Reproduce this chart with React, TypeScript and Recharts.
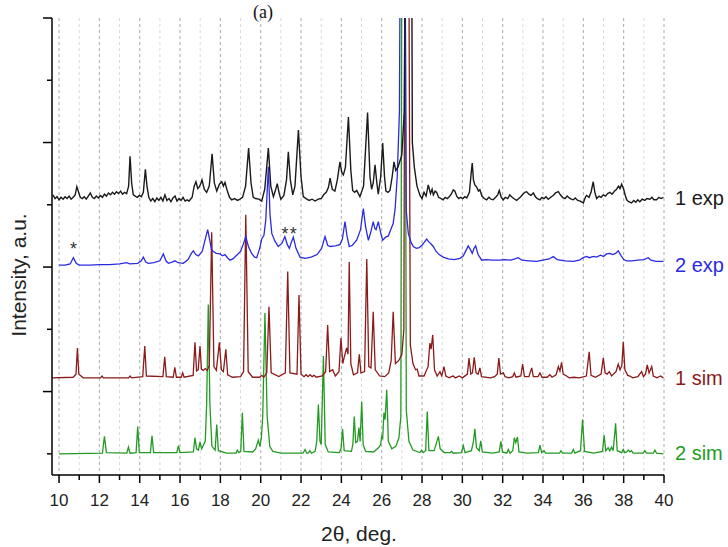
import React from 'react';
import { LineChart, Line, XAxis, YAxis, CartesianGrid, ReferenceDot } from 'recharts';

// 2θ positions and intensities (offset, arbitrary units)
const exp1: [number, number][] = [
  [9.7, 4.16], [9.8, 4.1], [9.9, 4.13], [10.0, 4.08], [10.1, 4.12], [10.2, 4.09], [10.3, 4.13], [10.4, 4.1],
  [10.5, 4.14], [10.6, 4.09], [10.7, 4.12], [10.8, 4.16], [10.88, 4.29], [10.95, 4.22], [11.05, 4.12], [11.15, 4.1],
  [11.25, 4.13], [11.35, 4.09], [11.45, 4.14], [11.55, 4.19], [11.65, 4.12], [11.75, 4.1], [11.85, 4.14], [11.95, 4.11],
  [12.05, 4.15], [12.15, 4.12], [12.25, 4.17], [12.35, 4.14], [12.45, 4.19], [12.55, 4.16], [12.65, 4.2], [12.75, 4.17],
  [12.85, 4.21], [12.95, 4.18], [13.05, 4.22], [13.15, 4.17], [13.25, 4.2], [13.35, 4.18], [13.45, 4.3], [13.52, 4.78],
  [13.6, 4.35], [13.68, 4.16], [13.78, 4.14], [13.88, 4.12], [13.98, 4.15], [14.08, 4.13], [14.18, 4.2], [14.28, 4.57],
  [14.36, 4.3], [14.45, 4.12], [14.55, 4.06], [14.65, 4.1], [14.75, 4.05], [14.85, 4.11], [14.95, 4.07], [15.05, 4.12],
  [15.15, 4.06], [15.25, 4.16], [15.35, 4.07], [15.45, 4.1], [15.55, 4.05], [15.65, 4.11], [15.75, 4.14], [15.85, 4.06],
  [15.95, 4.1], [16.05, 4.07], [16.15, 4.12], [16.25, 4.06], [16.35, 4.08], [16.45, 4.06], [16.6, 4.12], [16.7, 4.3],
  [16.79, 4.37], [16.88, 4.26], [16.96, 4.29], [17.04, 4.35], [17.09, 4.4], [17.2, 4.25], [17.32, 4.2], [17.45, 4.3],
  [17.59, 4.82], [17.7, 4.35], [17.82, 4.22], [17.95, 4.33], [18.07, 4.37], [18.15, 4.3], [18.23, 4.36], [18.32, 4.25],
  [18.45, 4.12], [18.56, 4.08], [18.7, 4.1], [18.85, 4.07], [18.97, 4.09], [19.1, 4.12], [19.25, 4.3], [19.4, 4.91],
  [19.52, 4.35], [19.63, 4.12], [19.75, 4.1], [19.9, 4.09], [20.05, 4.06], [20.2, 4.25], [20.38, 4.91], [20.5, 4.3],
  [20.63, 4.13], [20.72, 4.22], [20.82, 4.34], [20.92, 4.18], [21.0, 4.09], [21.15, 4.15], [21.28, 4.4], [21.37, 4.85],
  [21.47, 4.4], [21.59, 4.16], [21.7, 4.3], [21.87, 5.2], [22.0, 4.45], [22.11, 4.13], [22.25, 4.1], [22.4, 4.07],
  [22.55, 4.09], [22.7, 4.06], [22.85, 4.09], [23.0, 4.1], [23.12, 4.16], [23.25, 4.2], [23.36, 4.28], [23.44, 4.43],
  [23.55, 4.25], [23.68, 4.22], [23.8, 4.4], [23.93, 4.69], [24.02, 4.52], [24.1, 4.48], [24.2, 4.6], [24.35, 5.41],
  [24.47, 4.55], [24.56, 4.23], [24.66, 4.2], [24.76, 4.23], [24.92, 4.13], [25.1, 4.3], [25.3, 5.48], [25.42, 4.45],
  [25.5, 4.25], [25.58, 4.35], [25.67, 4.64], [25.76, 4.35], [25.83, 4.17], [25.95, 4.45], [26.05, 4.99], [26.14, 4.45],
  [26.21, 4.22], [26.31, 4.2], [26.41, 4.23], [26.52, 4.45], [26.61, 4.69], [26.7, 4.55], [26.8, 4.6], [26.9, 4.7],
  [27.0, 4.8], [27.12, 5.5], [27.25, 12], [27.45, 12], [27.52, 5.0], [27.62, 4.6], [27.75, 4.3], [27.9, 4.15],
  [28.0, 4.1], [28.1, 4.2], [28.2, 4.14], [28.31, 4.32], [28.42, 4.18], [28.5, 4.25], [28.56, 4.16], [28.65, 4.22],
  [28.73, 4.2], [28.82, 4.12], [28.95, 4.1], [29.05, 4.08], [29.15, 4.12], [29.25, 4.1], [29.35, 4.13], [29.45, 4.17],
  [29.55, 4.24], [29.63, 4.22], [29.72, 4.14], [29.82, 4.1], [29.92, 4.12], [30.02, 4.1], [30.12, 4.13], [30.22, 4.11],
  [30.35, 4.2], [30.45, 4.55], [30.49, 4.67], [30.55, 4.4], [30.62, 4.32], [30.72, 4.28], [30.8, 4.22], [30.87, 4.24],
  [30.97, 4.14], [31.08, 4.1], [31.2, 4.08], [31.32, 4.12], [31.42, 4.09], [31.53, 4.08], [31.65, 4.12], [31.75, 4.16],
  [31.83, 4.23], [31.93, 4.12], [32.03, 4.08], [32.13, 4.12], [32.25, 4.1], [32.35, 4.16], [32.44, 4.13], [32.55, 4.1],
  [32.69, 4.07], [32.8, 4.1], [32.9, 4.13], [33.0, 4.17], [33.1, 4.2], [33.19, 4.21], [33.3, 4.17], [33.4, 4.15],
  [33.52, 4.19], [33.62, 4.13], [33.72, 4.1], [33.85, 4.08], [33.95, 4.12], [34.05, 4.1], [34.15, 4.13], [34.26, 4.09],
  [34.38, 4.12], [34.5, 4.15], [34.62, 4.19], [34.76, 4.21], [34.86, 4.16], [34.97, 4.12], [35.09, 4.1], [35.2, 4.14],
  [35.3, 4.11], [35.4, 4.09], [35.5, 4.08], [35.6, 4.11], [35.72, 4.07], [35.85, 4.06], [36.0, 4.03], [36.1, 4.12],
  [36.16, 4.15], [36.28, 4.12], [36.38, 4.2], [36.49, 4.37], [36.57, 4.2], [36.66, 4.1], [36.78, 4.14], [36.88, 4.12],
  [36.99, 4.16], [37.1, 4.14], [37.2, 4.18], [37.32, 4.2], [37.42, 4.17], [37.55, 4.22], [37.65, 4.25], [37.75, 4.3],
  [37.82, 4.26], [37.9, 4.33], [38.0, 4.25], [38.08, 4.15], [38.15, 4.08], [38.25, 4.05], [38.39, 4.03], [38.5, 4.07],
  [38.6, 4.04], [38.7, 4.08], [38.8, 4.05], [38.92, 4.09], [39.05, 4.07], [39.15, 4.1], [39.3, 4.09], [39.4, 4.12],
  [39.5, 4.08], [39.63, 4.08], [39.75, 4.12], [39.85, 4.1], [39.97, 4.12],
];

const exp2: [number, number][] = [
  [10.0, 3.03], [10.3, 3.03], [10.55, 3.05], [10.71, 3.15], [10.85, 3.06], [11.0, 3.03], [11.5, 3.03], [12.0, 3.04],
  [12.5, 3.04], [13.0, 3.05], [13.36, 3.07], [13.5, 3.05], [13.9, 3.06], [14.08, 3.1], [14.18, 3.16], [14.3, 3.08],
  [14.43, 3.06], [14.7, 3.07], [15.0, 3.1], [15.17, 3.21], [15.3, 3.1], [15.42, 3.06], [15.6, 3.08], [15.75, 3.1],
  [15.9, 3.07], [16.16, 3.06], [16.4, 3.12], [16.56, 3.22], [16.66, 3.26], [16.78, 3.2], [16.91, 3.18], [17.1, 3.25],
  [17.25, 3.45], [17.37, 3.6], [17.48, 3.42], [17.56, 3.28], [17.65, 3.25], [17.8, 3.22], [17.98, 3.21], [18.1, 3.18],
  [18.23, 3.2], [18.35, 3.15], [18.48, 3.11], [18.62, 3.13], [18.81, 3.19], [19.0, 3.25], [19.15, 3.38], [19.26, 3.49],
  [19.39, 3.33], [19.55, 3.22], [19.7, 3.16], [19.8, 3.15], [19.95, 3.3], [20.05, 3.45], [20.16, 3.51], [20.25, 3.75],
  [20.38, 4.61], [20.46, 3.85], [20.55, 3.54], [20.7, 3.42], [20.87, 3.33], [21.05, 3.38], [21.2, 3.49], [21.32, 3.36],
  [21.42, 3.3], [21.52, 3.4], [21.62, 3.48], [21.75, 3.3], [21.95, 3.16], [22.2, 3.14], [22.5, 3.16], [22.8, 3.2],
  [23.02, 3.3], [23.19, 3.49], [23.32, 3.35], [23.44, 3.33], [23.7, 3.34], [23.93, 3.36], [24.05, 3.45], [24.18, 3.73],
  [24.28, 3.5], [24.39, 3.33], [24.55, 3.35], [24.76, 3.43], [24.95, 3.6], [25.09, 3.94], [25.2, 3.65], [25.34, 3.43],
  [25.45, 3.55], [25.58, 3.73], [25.66, 3.62], [25.72, 3.6], [25.83, 3.73], [25.95, 3.55], [26.05, 3.43], [26.2, 3.48],
  [26.33, 3.5], [26.47, 3.62], [26.57, 3.7], [26.67, 3.95], [26.77, 4.45], [26.88, 5.5], [26.97, 12], [27.1, 12],
  [27.22, 3.9], [27.32, 3.54], [27.45, 3.4], [27.57, 3.33], [27.72, 3.3], [27.86, 3.31], [28.0, 3.35], [28.12, 3.4],
  [28.23, 3.45], [28.35, 3.4], [28.45, 3.37], [28.56, 3.33], [28.7, 3.25], [28.85, 3.2], [29.05, 3.16], [29.3, 3.13],
  [29.6, 3.12], [29.88, 3.14], [30.05, 3.18], [30.2, 3.28], [30.29, 3.34], [30.4, 3.28], [30.49, 3.22], [30.58, 3.3],
  [30.66, 3.34], [30.78, 3.2], [30.96, 3.11], [31.2, 3.12], [31.5, 3.11], [31.87, 3.11], [32.1, 3.12], [32.4, 3.11],
  [32.6, 3.13], [32.77, 3.15], [32.95, 3.11], [33.3, 3.1], [33.68, 3.09], [34.0, 3.11], [34.3, 3.13], [34.51, 3.17],
  [34.7, 3.12], [35.1, 3.1], [35.5, 3.09], [35.8, 3.11], [36.0, 3.15], [36.16, 3.17], [36.3, 3.15], [36.5, 3.17],
  [36.66, 3.16], [36.85, 3.19], [37.0, 3.17], [37.15, 3.21], [37.32, 3.22], [37.45, 3.2], [37.6, 3.22], [37.73, 3.26],
  [37.88, 3.18], [38.0, 3.12], [38.15, 3.1], [38.4, 3.1], [38.7, 3.11], [39.0, 3.12], [39.22, 3.15], [39.35, 3.11],
  [39.6, 3.09], [39.97, 3.09],
];

const sim1: [number, number][] = [
  [9.66, 1.22], [10.7, 1.23], [10.84, 1.28], [10.91, 1.7], [10.98, 1.28], [11.2, 1.22], [12.05, 1.22], [12.13, 1.25],
  [12.2, 1.22], [13.45, 1.22], [13.52, 1.25], [13.6, 1.22], [14.15, 1.24], [14.25, 1.73], [14.33, 1.25], [15.15, 1.24],
  [15.24, 1.56], [15.32, 1.24], [15.66, 1.23], [15.74, 1.39], [15.82, 1.23], [16.06, 1.23], [16.13, 1.3], [16.2, 1.23],
  [16.65, 1.26], [16.74, 1.79], [16.82, 1.33], [16.9, 1.35], [16.99, 1.73], [17.06, 1.36], [17.15, 1.34], [17.25, 1.37],
  [17.35, 1.34], [17.45, 1.42], [17.57, 3.56], [17.68, 1.4], [17.8, 1.34], [17.95, 1.79], [18.05, 1.35], [18.15, 1.32],
  [18.27, 1.68], [18.36, 1.27], [18.6, 1.23], [19.0, 1.24], [19.15, 1.32], [19.26, 3.84], [19.38, 1.32], [19.6, 1.23],
  [19.95, 1.23], [20.05, 1.26], [20.15, 1.23], [20.3, 1.3], [20.41, 2.36], [20.52, 1.3], [20.9, 1.24], [21.22, 1.3],
  [21.34, 2.93], [21.45, 1.3], [21.8, 1.28], [21.9, 2.55], [22.0, 1.28], [22.15, 1.24], [22.25, 1.27], [22.35, 1.24],
  [22.45, 1.27], [22.55, 1.24], [22.65, 1.26], [22.75, 1.23], [23.05, 1.25], [23.22, 1.32], [23.32, 2.07], [23.42, 1.32],
  [23.57, 1.35], [23.7, 1.25], [23.88, 1.32], [23.98, 1.86], [24.07, 1.45], [24.14, 1.55], [24.26, 1.7], [24.33, 1.6],
  [24.39, 3.08], [24.47, 1.45], [24.6, 1.27], [24.8, 1.3], [24.89, 1.6], [24.97, 1.3], [25.15, 1.32], [25.26, 3.13],
  [25.36, 1.4], [25.47, 1.38], [25.58, 2.28], [25.68, 1.35], [25.9, 1.25], [26.15, 1.24], [26.35, 1.3], [26.47, 1.5],
  [26.57, 2.28], [26.68, 1.45], [26.85, 1.5], [27.0, 1.6], [27.1, 2.0], [27.18, 12], [27.3, 12], [27.42, 1.75],
  [27.55, 1.45], [27.68, 1.35], [27.76, 1.36], [27.85, 1.25], [28.1, 1.25], [28.3, 1.4], [28.39, 1.78], [28.45, 1.68],
  [28.53, 1.91], [28.62, 1.35], [28.75, 1.25], [28.89, 1.32], [28.98, 1.25], [29.09, 1.4], [29.18, 1.25], [29.35, 1.22],
  [29.45, 1.24], [29.55, 1.25], [29.65, 1.22], [29.85, 1.25], [30.0, 1.22], [30.25, 1.28], [30.33, 1.54], [30.42, 1.28],
  [30.5, 1.3], [30.59, 1.55], [30.68, 1.3], [30.78, 1.28], [30.87, 1.38], [30.95, 1.24], [31.4, 1.22], [31.6, 1.24],
  [31.73, 1.28], [31.81, 1.54], [31.89, 1.28], [32.03, 1.3], [32.12, 1.24], [32.3, 1.22], [32.5, 1.24], [32.58, 1.3],
  [32.66, 1.23], [32.9, 1.25], [32.99, 1.44], [33.08, 1.24], [33.3, 1.24], [33.44, 1.38], [33.52, 1.24], [33.75, 1.24],
  [33.85, 1.3], [33.95, 1.23], [34.2, 1.23], [34.34, 1.27], [34.45, 1.23], [34.65, 1.27], [34.76, 1.4], [34.84, 1.33],
  [34.92, 1.47], [35.0, 1.28], [35.17, 1.25], [35.3, 1.22], [35.53, 1.23], [35.8, 1.22], [36.15, 1.25], [36.29, 1.64],
  [36.38, 1.26], [36.6, 1.23], [36.88, 1.28], [36.99, 1.54], [37.08, 1.3], [37.18, 1.28], [37.29, 1.32], [37.4, 1.25],
  [37.62, 1.32], [37.73, 1.44], [37.82, 1.35], [37.91, 1.42], [37.98, 1.8], [38.06, 1.35], [38.2, 1.26], [38.31, 1.25],
  [38.45, 1.22], [38.7, 1.24], [38.89, 1.32], [38.98, 1.24], [39.08, 1.28], [39.17, 1.43], [39.26, 1.3], [39.39, 1.4],
  [39.47, 1.25], [39.65, 1.22], [39.83, 1.25], [39.97, 1.22],
];

const sim2: [number, number][] = [
  [10.0, 0], [12.15, 0.01], [12.25, 0.28], [12.35, 0.02], [13.36, 0.01], [13.44, 0.11], [13.52, 0.01], [13.82, 0.02],
  [13.9, 0.44], [13.98, 0.02], [14.53, 0.02], [14.61, 0.29], [14.69, 0.02], [15.84, 0.02], [15.92, 0.13], [16.0, 0.02],
  [16.66, 0.03], [16.74, 0.26], [16.82, 0.08], [16.91, 0.06], [16.99, 0.19], [17.07, 0.08], [17.25, 0.2], [17.32, 0.8],
  [17.4, 2.4], [17.48, 0.8], [17.58, 0.12], [17.74, 0.06], [17.82, 0.47], [17.9, 0.05], [18.3, 0.01], [18.78, 0.01],
  [18.84, 0.06], [18.92, 0.02], [19.01, 0.04], [19.09, 0.66], [19.17, 0.04], [19.6, 0.03], [19.75, 0.08], [19.88, 0.22],
  [19.96, 0.12], [20.03, 0.25], [20.1, 0.6], [20.21, 2.26], [20.32, 0.6], [20.45, 0.12], [20.6, 0.04], [21.0, 0.01],
  [22.1, 0.01], [22.2, 0.07], [22.28, 0.01], [22.36, 0.01], [22.44, 0.05], [22.52, 0.01], [22.7, 0.04], [22.78, 0.2],
  [22.86, 0.79], [22.94, 0.2], [23.0, 0.15], [23.11, 1.57], [23.2, 0.15], [23.35, 0.03], [23.9, 0.02], [23.98, 0.08],
  [24.06, 0.4], [24.14, 0.05], [24.5, 0.04], [24.57, 0.15], [24.64, 0.6], [24.71, 0.18], [24.8, 0.2], [24.87, 0.42],
  [24.93, 0.2], [25.01, 0.84], [25.08, 0.15], [25.2, 0.04], [25.6, 0.03], [25.85, 0.1], [25.95, 0.15], [26.0, 0.28],
  [26.05, 0.25], [26.11, 0.66], [26.17, 0.55], [26.25, 1.03], [26.33, 0.2], [26.5, 0.08], [26.7, 0.12], [26.85, 0.25],
  [26.95, 0.6], [27.02, 12], [27.14, 12], [27.22, 0.7], [27.35, 0.2], [27.55, 0.06], [27.9, 0.02], [27.98, 0.06],
  [28.06, 0.02], [28.18, 0.05], [28.26, 0.68], [28.34, 0.05], [28.6, 0.05], [28.72, 0.18], [28.81, 0.28], [28.9, 0.08],
  [29.1, 0.02], [29.4, 0.02], [29.47, 0.04], [29.55, 0.01], [29.95, 0.02], [30.05, 0.13], [30.13, 0.02], [30.45, 0.05],
  [30.55, 0.2], [30.62, 0.4], [30.7, 0.1], [30.84, 0.05], [30.91, 0.21], [30.99, 0.03], [31.5, 0.01], [31.83, 0.03],
  [31.91, 0.2], [31.99, 0.03], [32.2, 0.01], [32.28, 0.07], [32.36, 0.01], [32.5, 0.05], [32.58, 0.26], [32.65, 0.18],
  [32.73, 0.27], [32.81, 0.03], [33.2, 0.01], [33.77, 0.02], [33.85, 0.14], [33.93, 0.02], [34.05, 0.05], [34.13, 0.01],
  [34.82, 0.01], [34.89, 0.05], [34.96, 0.01], [35.42, 0.01], [35.5, 0.07], [35.58, 0.01], [35.86, 0.05], [35.96, 0.55],
  [36.06, 0.04], [36.5, 0.01], [36.95, 0.04], [37.03, 0.3], [37.11, 0.05], [37.23, 0.1], [37.31, 0.05], [37.4, 0.11],
  [37.48, 0.05], [37.6, 0.49], [37.68, 0.05], [37.9, 0.02], [37.98, 0.07], [38.05, 0.02], [38.15, 0.03], [38.23, 0.06],
  [38.31, 0.03], [38.39, 0.05], [38.47, 0.01], [38.97, 0.01], [39.05, 0.05], [39.13, 0.01], [39.47, 0.01], [39.55, 0.06],
  [39.63, 0.01], [39.97, 0],
];

const xTicks = [10, 11, 12, 13, 14, 15, 16, 17, 18, 19, 20, 21, 22, 23, 24, 25, 26, 27, 28, 29, 30, 31, 32, 33, 34, 35, 36, 37, 38, 39, 40];
const xMajor = [10, 12, 14, 16, 18, 20, 22, 24, 26, 28, 30, 32, 34, 36, 38, 40];
const xMinor = [11, 13, 15, 17, 19, 21, 23, 25, 27, 29, 31, 33, 35, 37, 39];
const yTicks = [0, 1, 2, 3, 4, 5, 6, 7];
const yMajor = [1, 3, 5, 7];

const seriesLabels = [
  { name: '1 exp', y: 4.11, color: '#1a1a1a' },
  { name: '2 exp', y: 3.03, color: '#2a2ae0' },
  { name: '1 sim', y: 1.22, color: '#8b1a1a' },
  { name: '2 sim', y: 0.02, color: '#239a23' },
];
const stars = [
  { x: 10.72, y: 3.35 },
  { x: 21.2, y: 3.6 },
  { x: 21.62, y: 3.6 },
];

const toPts = (arr: [number, number][]) => arr.map(([x, y]) => ({ x, y }));
const FONT = '"Liberation Sans", Arial, sans-serif';

const XTick = (props: any) => {
  const { x, y, payload } = props;
  const major = xMajor.includes(payload.value);
  return (
    <g>
      <line x1={x} x2={x} y1={y} y2={y + (major ? 8 : 5)} stroke="#000" strokeWidth={1.5} />
      {major && (
        <text x={x} y={y + 31} textAnchor="middle" fontSize={17} fontFamily={FONT} fill="#222">
          {payload.value}
        </text>
      )}
    </g>
  );
};

const YTick = (props: any) => {
  const { x, y, payload } = props;
  const len = yMajor.includes(payload.value) ? 9 : 5;
  return <line x1={x - len} x2={x} y1={y} y2={y} stroke="#000" strokeWidth={1.5} />;
};

export default function App() {
  return (
    <div style={{ position: 'absolute', left: 0, top: 0, background: '#fff' }}>
      <LineChart width={728} height={547} margin={{ top: 18, right: 64, bottom: 12, left: 8 }}>
        <CartesianGrid horizontal={false} verticalValues={xMinor} stroke="#dadada" strokeDasharray="3 3" />
        <CartesianGrid horizontal={false} verticalValues={xMajor} stroke="#ababab" strokeDasharray="3 3" />
        <XAxis
          dataKey="x"
          type="number"
          domain={[9.65, 40]}
          ticks={xTicks}
          interval={0}
          allowDataOverflow
          height={60}
          tickSize={0}
          tickMargin={0}
          tick={<XTick />}
          axisLine={{ stroke: '#000', strokeWidth: 1.5 }}
        />
        <YAxis
          type="number"
          domain={[-0.34, 7]}
          ticks={yTicks}
          allowDataOverflow
          width={44}
          tickSize={0}
          tickMargin={0}
          tick={<YTick />}
          axisLine={{ stroke: '#000', strokeWidth: 1.5 }}
        />
        <Line data={toPts(sim2)} dataKey="y" type="linear" stroke="#239a23" strokeWidth={1.3} dot={false} isAnimationActive={false} />
        <Line data={toPts(sim1)} dataKey="y" type="linear" stroke="#8b1a1a" strokeWidth={1.3} dot={false} isAnimationActive={false} />
        <Line data={toPts(exp2)} dataKey="y" type="linear" stroke="#2a2ae0" strokeWidth={1.3} dot={false} isAnimationActive={false} />
        <Line data={toPts(exp1)} dataKey="y" type="linear" stroke="#1a1a1a" strokeWidth={1.4} dot={false} isAnimationActive={false} />
        {seriesLabels.map((s) => (
          <ReferenceDot
            key={s.name}
            x={40}
            y={s.y}
            r={0}
            ifOverflow="visible"
            label={{
              content: (p: any) => (
                <text x={p.viewBox.x + 11} y={p.viewBox.y + 7} fontSize={20} fontFamily={FONT} fill={s.color}>
                  {s.name}
                </text>
              ),
            }}
          />
        ))}
        {stars.map((s, i) => (
          <ReferenceDot
            key={i}
            x={s.x}
            y={s.y}
            r={0}
            ifOverflow="visible"
            label={{
              content: (p: any) => (
                <text x={p.viewBox.x} y={p.viewBox.y + 10} textAnchor="middle" fontSize={18} fontFamily={FONT} fill="#333">
                  *
                </text>
              ),
            }}
          />
        ))}
        <text x={263} y={18} textAnchor="middle" fontSize={18} fontFamily='"Liberation Serif", "Times New Roman", serif' fill="#111">
          (a)
        </text>
        <text x={359} y={541} textAnchor="middle" fontSize={21} fontFamily={FONT} fill="#222">
          2θ, deg.
        </text>
        <text x={26} y={275} textAnchor="middle" fontSize={21} fontFamily={FONT} fill="#222" transform="rotate(-90 26 275)">
          Intensity, a.u.
        </text>
      </LineChart>
    </div>
  );
}
